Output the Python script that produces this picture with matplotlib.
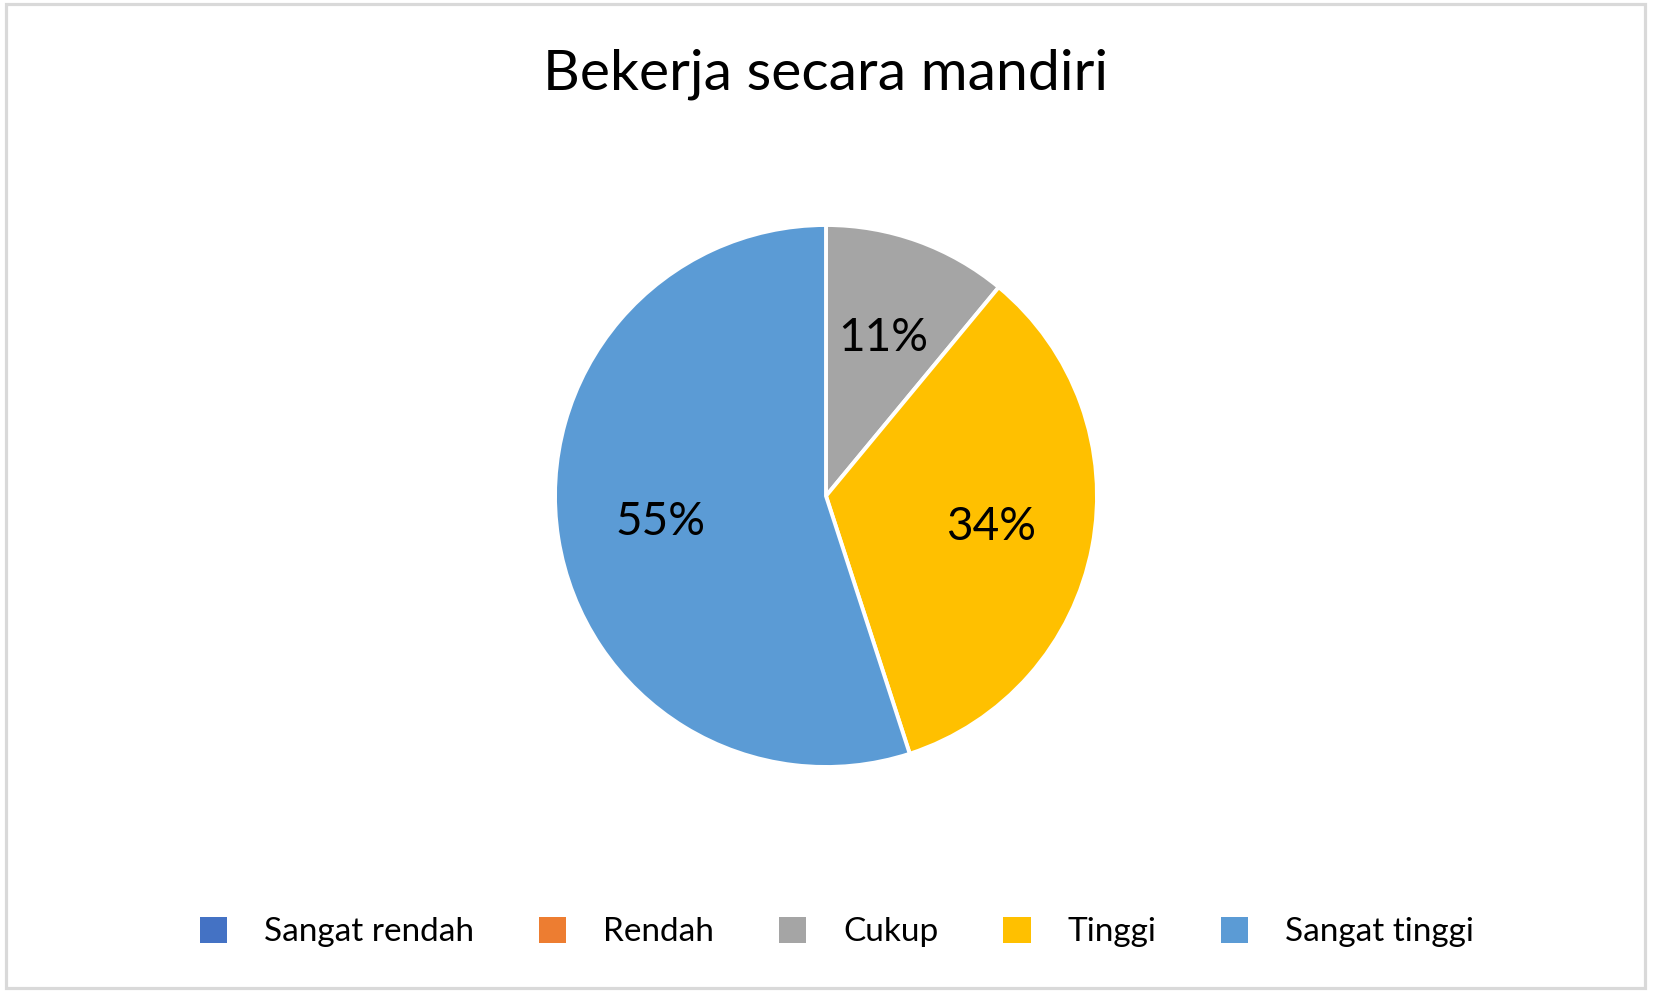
import matplotlib
matplotlib.use("Agg")
import matplotlib.pyplot as plt
from matplotlib.patches import Patch, Rectangle

title = "Bekerja secara mandiri"
categories = ["Sangat rendah", "Rendah", "Cukup", "Tinggi", "Sangat tinggi"]
values = [0, 0, 11, 34, 55]
colors = ["#4472C4", "#ED7D31", "#A5A5A5", "#FFC000", "#5B9BD5"]

plt.rcParams['font.family'] = ['Lato', 'DejaVu Sans']

W, H = 1653, 993
fig = plt.figure(figsize=(W / 100, H / 100), dpi=100)
fig.patch.set_facecolor("white")

# border
fig.patches.append(Rectangle((6 / W, 5 / H), (1645 - 6) / W, (989 - 5) / H,
                             transform=fig.transFigure, fill=False,
                             edgecolor="#d9d9d9", linewidth=2.3))

cx, cy, half = 826, 496, 300
ax = fig.add_axes([(cx - half) / W, 1 - (cy + half) / H, 2 * half / W, 2 * half / H])
r = 271 / half


def fmt(p):
    return "" if p < 0.5 else f"{p:.0f}%"


wedges, texts, autotexts = ax.pie(values, colors=colors, startangle=90, counterclock=False,
                                  radius=r, autopct=fmt, pctdistance=0.62,
                                  wedgeprops=dict(edgecolor="white", linewidth=2.8),
                                  textprops=dict(fontsize=33, color="black"))
ax.set_xlim(-1, 1)
ax.set_ylim(-1, 1)
ax.set_aspect("equal")
ax.axis("off")

fig.text(cx / W, 1 - 74 / H, title, ha="center", va="center", fontsize=41, color="black")

handles = [Patch(facecolor=c, edgecolor="none") for c in colors]
fig.legend(handles, categories, loc="center", bbox_to_anchor=(837 / W, 1 - 932 / H),
           ncol=5, frameon=False, fontsize=24, handlelength=0.82, handleheight=0.82,
           handletextpad=1.1, columnspacing=1.95)

fig.savefig("out.png", dpi=100, facecolor="white")
